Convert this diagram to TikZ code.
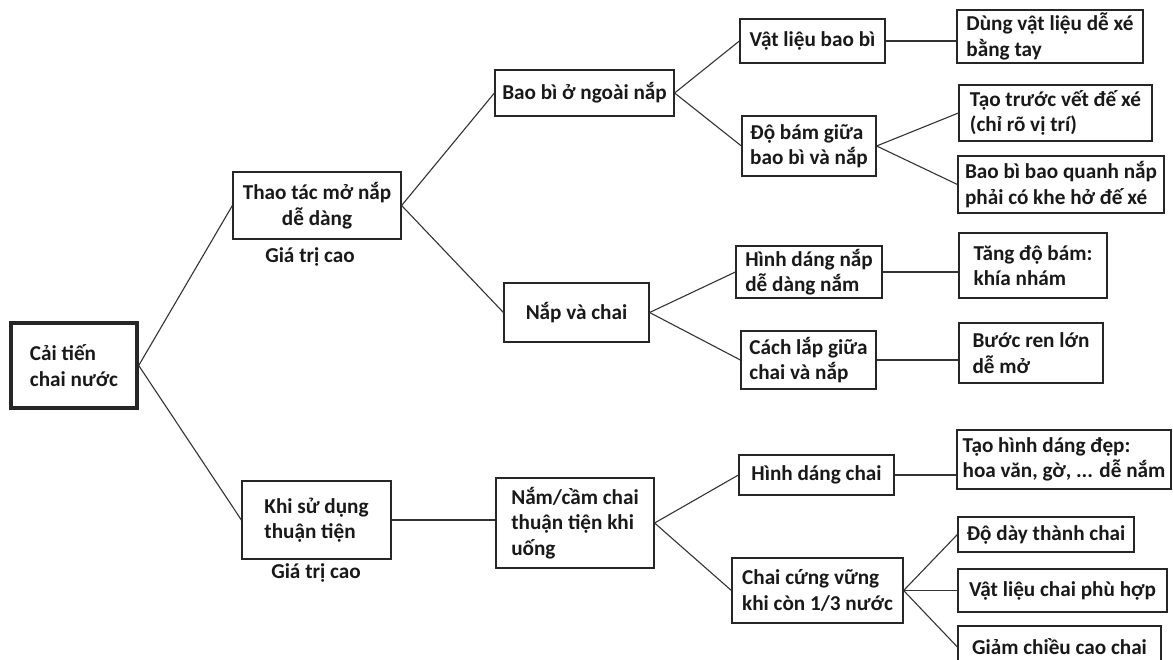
\documentclass[tikz,border=0pt]{standalone}
\usepackage{fontspec}
\setmainfont{Carlito}
\begin{document}
\begin{tikzpicture}[x=1pt,y=-1pt,
  box/.style={draw=black!85, line width=1.2pt, inner sep=0pt, align=left,
    font=\fontsize{21.2}{25.5}\selectfont\bfseries, text=black!90},
  rootbox/.style={box, line width=3.4pt},
  lbl/.style={inner sep=0pt, font=\fontsize{21.2}{25.5}\selectfont\bfseries, text=black!90},
  link/.style={draw=black!80, line width=1.1pt}]
\useasboundingbox (0,0) rectangle (1173,659);
\clip (0,0) rectangle (1173,659);
\fill[white] (0,0) rectangle (1173,659);
% level 0
\node[rootbox, minimum width=126pt, minimum height=85pt] (root) at (74,365.5) {Cải tiến\\chai nước};
% level 1
\node[box, align=center, minimum width=168pt, minimum height=67pt] (thao) at (317,205.5) {Thao tác mở nắp\\dễ dàng};
\node[lbl] (gtc1) at (310,257) {Giá trị cao};
\node[box, minimum width=149pt, minimum height=78pt] (khi) at (316.5,520) {Khi sử dụng\\thuận tiện};
\node[lbl] (gtc2) at (316,573) {Giá trị cao};
% level 2
\node[box, minimum width=179pt, minimum height=46pt] (baobi) at (584.5,93) {Bao bì ở ngoài nắp};
\node[box, minimum width=145pt, minimum height=59pt] (napchai) at (576.5,312.5) {Nắp và chai};
\node[box, minimum width=158pt, minimum height=90pt] (nam) at (575,523) {Nắm/cầm chai\\thuận tiện khi\\uống};
% level 3
\node[box, minimum width=145pt, minimum height=44pt] (vlbb) at (812.5,41) {Vật liệu bao bì};
\node[box, minimum width=134pt, minimum height=60pt] (dobam) at (809,146) {Độ bám giữa\\bao bì và nắp};
\node[box, minimum width=146pt, minimum height=52pt] (hdnap) at (809,272) {Hình dáng nắp\\dễ dàng nắm};
\node[box, minimum width=135pt, minimum height=58pt] (caclap) at (808.5,360) {Cách lắp giữa\\chai và nắp};
\node[box, minimum width=155pt, minimum height=40pt] (hdchai) at (816.5,475) {Hình dáng chai};
\node[box, minimum width=171pt, minimum height=65pt] (cung) at (817.5,590.5) {Chai cứng vững\\khi còn 1/3 nước};
% level 4
\node[box, minimum width=186pt, minimum height=53pt] (dung) at (1050,36.5) {Dùng vật liệu dễ xé\\bằng tay};
\node[box, minimum width=193pt, minimum height=56pt] (taotruoc) at (1055.5,113) {Tạo trước vết đế xé\\(chỉ rõ vị trí)};
\node[box, minimum width=206pt, minimum height=57pt] (quanh) at (1061,184.5) {Bao bì bao quanh nắp\\phải có khe hở đế xé};
\node[box, minimum width=148pt, minimum height=65pt] (tang) at (1033,265.5) {Tăng độ bám:\\khía nhám};
\node[box, minimum width=144pt, minimum height=60pt] (buoc) at (1031,353) {Bước ren lớn\\dễ mở};
\node[box, minimum width=214pt, minimum height=59pt] (taohinh) at (1064,459.5) {Tạo hình dáng đẹp:\\hoa văn, gờ, ... dễ nắm};
\node[box, minimum width=176pt, minimum height=35pt] (daythanh) at (1046,534.5) {Độ dày thành chai};
\node[box, minimum width=209pt, minimum height=43pt] (vlchai) at (1062.5,590.5) {Vật liệu chai phù hợp};
\node[box, minimum width=203pt, minimum height=42pt] (giam) at (1059.5,647) {Giảm chiều cao chai};
% connectors
\draw[link] (root.east) -- (thao.west);
\draw[link] (root.east) -- (khi.west);
\draw[link] (thao.east) -- (baobi.west);
\draw[link] (thao.east) -- (napchai.west);
\draw[link] (khi.east) -- (khi.east -| nam.west);
\draw[link] (baobi.east) -- (vlbb.west);
\draw[link] (baobi.east) -- (dobam.west);
\draw[link] (napchai.east) -- (hdnap.west);
\draw[link] (napchai.east) -- (caclap.west);
\draw[link] (nam.east) -- (hdchai.west);
\draw[link] (nam.east) -- (cung.west);
\draw[link] (vlbb.east) -- (vlbb.east -| dung.west);
\draw[link] (dobam.east) -- (taotruoc.west);
\draw[link] (dobam.east) -- (quanh.west);
\draw[link] (hdnap.east) -- (hdnap.east -| tang.west);
\draw[link] (caclap.east) -- (caclap.east -| buoc.west);
\draw[link] (hdchai.east) -- (hdchai.east -| taohinh.west);
\draw[link] (cung.east) -- (daythanh.west);
\draw[link] (cung.east) -- (vlchai.west);
\draw[link] (cung.east) -- (giam.west);
\end{tikzpicture}
\end{document}
